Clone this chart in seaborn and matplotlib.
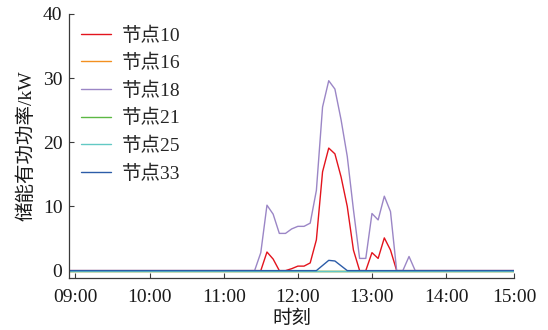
import numpy as np
import pandas as pd
import matplotlib
matplotlib.use("Agg")
import matplotlib.pyplot as plt
import seaborn as sns

# Five-minute sampling steps; step 1 is 09:00, step 72 is the last sample
steps = list(range(73))
tick_steps = [1, 13, 25, 37, 49, 61, 72]
tick_labels = ["09:00", "10:00", "11:00", "12:00", "13:00", "14:00", "15:00"]

node_names = ["节点10", "节点16", "节点18", "节点21", "节点25", "节点33"]
node_colors = ["#e3141d", "#f39020", "#9b86c6", "#5cb844", "#62c9c4", "#2c5ca8"]

# Storage active power (kW) at each step
p_node10 = ([0.0] * 31 + [0.0, 2.9, 1.8, 0.0, 0.0, 0.3, 0.7, 0.7, 1.2, 4.8,
                          15.4, 19.1, 18.2, 14.6, 10.0, 3.2, 0.0, 0.0, 2.8, 1.9,
                          5.1, 3.2, 0.0] + [0.0] * 19)
p_node16 = [0.0] * 73
p_node18 = ([0.0] * 30 + [0.0, 2.8, 10.2, 8.8, 5.8, 5.8, 6.5, 6.9, 6.9, 7.4,
                          12.5, 25.5, 29.6, 28.3, 23.5, 17.8, 9.5, 1.9, 1.9, 8.9,
                          7.9, 11.6, 9.2, 0.0, 0.0, 2.2, 0.0] + [0.0] * 16)
p_node21 = [0.0] * 73
p_node25 = [0.0] * 73
p_node33 = [0.0] * 40 + [0.0, 0.8, 1.6, 1.5, 0.75, 0.0] + [0.0] * 27

series = [p_node10, p_node16, p_node18, p_node21, p_node25, p_node33]
df = pd.concat(
    [pd.DataFrame({"step": steps, "power": vals, "node": name})
     for name, vals in zip(node_names, series)],
    ignore_index=True,
)

sns.set_theme(style="ticks")
plt.rcParams["font.family"] = ["Liberation Serif", "Noto Sans CJK SC"]
plt.rcParams["axes.unicode_minus"] = False

fig = plt.figure(figsize=(5.48, 3.30), dpi=100)
ax = fig.add_axes([0.1265, 0.1576, 0.8115, 0.80])

sns.lineplot(data=df, x="step", y="power", hue="node", hue_order=node_names,
             palette=dict(zip(node_names, node_colors)), linewidth=1.0,
             ax=ax, legend=True)

ax.set_xlim(0, 72)
ax.set_ylim(-1.15, 40)
ax.set_xticks(tick_steps)
ax.set_xticklabels(tick_labels)
ax.set_yticks([0, 10, 20, 30, 40])

for side in ("top", "right"):
    ax.spines[side].set_visible(False)
for side in ("left", "bottom"):
    ax.spines[side].set_color("#3a3a3a")
    ax.spines[side].set_linewidth(0.9)

ax.tick_params(direction="in", length=3.5, width=0.8, color="#3a3a3a",
               labelsize=14, labelcolor="#1a1a1a")
ax.tick_params(axis="x", pad=8)
ax.tick_params(axis="y", pad=5)

ax.set_xlabel("时刻", fontsize=14, color="#1a1a1a", labelpad=3.5)
ax.set_ylabel("储能有功功率/kW", fontsize=14, color="#1a1a1a", labelpad=5)

handles, labels = ax.get_legend_handles_labels()
ax.legend(handles, labels, loc="upper left", bbox_to_anchor=(-0.005, 1.005),
          frameon=False, fontsize=14, handlelength=1.55, handletextpad=0.55,
          labelspacing=0.48, borderaxespad=0.3)

fig.savefig("out.png", dpi=100)
